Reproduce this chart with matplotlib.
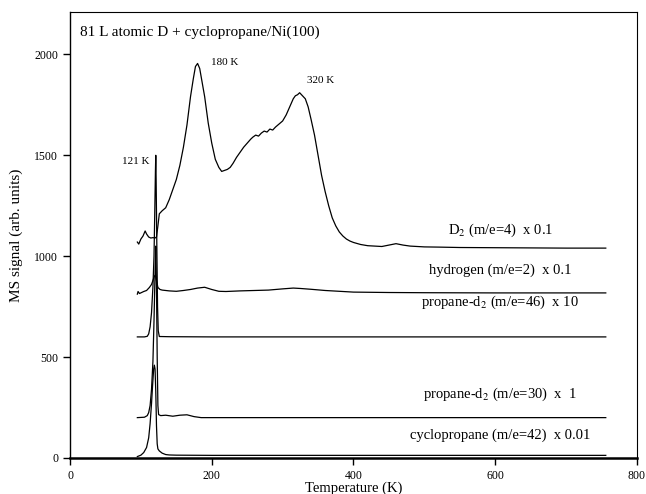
#!/usr/bin/env python3
"""
TPD spectra: 81 L atomic D + cyclopropane/Ni(100)
"""

import matplotlib.pyplot as plt

plt.rcParams["font.family"] = ["Liberation Serif", "DejaVu Serif"]
plt.rcParams["mathtext.fontset"] = "stix"

# D2 (m/e=4) x 0.1
d2_temp = [95, 97, 100, 103, 106, 108, 111, 114, 117, 120, 122, 124, 126, 130,
           135, 140, 145, 150, 155, 160, 165, 170, 174, 177, 180, 183, 186,
           190, 195, 200, 205, 210, 214, 218, 222, 226, 230, 235, 240, 245,
           250, 255, 258, 262, 266, 270, 274, 278, 282, 286, 290, 295, 300,
           305, 310, 315, 318, 321, 324, 328, 332, 336, 340, 345, 350, 355,
           360, 365, 370, 375, 380, 385, 390, 395, 400, 410, 420, 430, 440,
           450, 460, 470, 480, 500, 520, 550, 600, 650, 700, 756]
d2_vals = [1070, 1060, 1085, 1100, 1125, 1110, 1095, 1090, 1092, 1090, 1095,
           1150, 1210, 1225, 1240, 1280, 1330, 1380, 1450, 1540, 1650, 1790,
           1880, 1940, 1955, 1930, 1870, 1790, 1660, 1560, 1480, 1440, 1420,
           1425, 1430, 1440, 1460, 1490, 1515, 1540, 1560, 1580, 1590, 1600,
           1595, 1610, 1620, 1615, 1630, 1625, 1640, 1655, 1670, 1700, 1740,
           1780, 1795, 1800, 1810, 1795, 1780, 1740, 1680, 1600, 1500, 1400,
           1320, 1250, 1190, 1150, 1120, 1100, 1085, 1075, 1068, 1058, 1052,
           1050, 1048, 1055, 1062, 1055, 1050, 1046, 1045, 1043, 1042, 1041,
           1040, 1040]

# hydrogen (m/e=2) x 0.1
h2_temp = [95, 96, 98, 101, 104, 108, 112, 115, 117, 119, 120, 121, 122, 124,
           127, 130, 140, 150, 160, 170, 180, 190, 200, 210, 220, 240, 260, 280,
           300, 315, 325, 340, 360, 380, 400, 450, 500, 600, 700, 756]
h2_vals = [812, 825, 815, 820, 825, 830, 845, 860, 880, 900, 905, 900, 880,
           845, 835, 832, 828, 826, 830, 835, 842, 846, 835, 826, 825, 828,
           830, 832, 838, 842, 840, 836, 830, 826, 822, 820, 819, 818, 818, 818]

# propane-d2 (m/e=46) x 10
p46_temp = [95, 105, 109, 111, 113, 115, 117, 118.5, 119.5, 120.5, 121, 121.5,
            122.5, 123.5, 124.5, 126, 140, 200, 300, 400, 500, 600, 700, 756]
p46_vals = [600, 600, 603, 615, 650, 720, 850, 1000, 1200, 1420, 1500, 1380,
            1050, 750, 630, 602, 601, 600, 600, 600, 600, 600, 600, 600]

# propane-d2 (m/e=30) x 1
p30_temp = [95, 105, 109, 111, 113, 115, 117, 118.5, 120, 121, 122, 123, 124,
            125, 128, 135, 145, 155, 165, 175, 185, 200, 300, 400, 500, 600,
            700, 756]
p30_vals = [200, 202, 210, 225, 260, 340, 480, 680, 920, 1050, 850, 500, 260,
            215, 210, 212, 207, 212, 214, 205, 200, 200, 200, 200, 200, 200,
            200, 200]

# cyclopropane (m/e=42) x 0.01
c3_temp = [95, 100, 104, 108, 111, 113, 115, 116.5, 118, 119, 120, 121, 122,
           123, 124, 126, 130, 135, 140, 150, 200, 300, 400, 500, 600, 700, 756]
c3_vals = [7, 14, 27, 52, 100, 170, 270, 360, 440, 460, 440, 330, 160, 70,
           45, 35, 24, 17, 15, 14, 13, 13, 13, 13, 13, 13, 13]

traces = [
    (d2_temp, d2_vals),
    (h2_temp, h2_vals),
    (p46_temp, p46_vals),
    (p30_temp, p30_vals),
    (c3_temp, c3_vals),
]

labels = [
    (607, 1130, r"D$_2$ (m/e=4)  x 0.1"),
    (607, 930, "hydrogen (m/e=2)  x 0.1"),
    (607, 772, r"propane-d$_2$ (m/e=46)  x 10"),
    (607, 317, r"propane-d$_2$ (m/e=30)  x  1"),
    (607, 114, "cyclopropane (m/e=42)  x 0.01"),
]

peaks = [
    (199, 1960, "180 K", "left"),
    (335, 1870, "320 K", "left"),
    (112, 1470, "121 K", "right"),
]

fig = plt.figure(figsize=(6.46, 4.94), dpi=100)
ax = fig.add_axes([0.1084, 0.0729, 0.8776, 0.9028])

for temp, vals in traces:
    ax.plot(temp, vals, color="black", linewidth=0.9)

for x, y, txt in labels:
    ax.text(x, y, txt, ha="center", va="center", fontsize=10.5)

for x, y, txt, ha in peaks:
    ax.text(x, y, txt, ha=ha, va="center", fontsize=8)

ax.text(14, 2110, "81 L atomic D + cyclopropane/Ni(100)", ha="left",
        va="center", fontsize=11)

ax.set_xlim(0, 800)
ax.set_ylim(0, 2210)
ax.set_xticks([0, 200, 400, 600, 800])
ax.set_yticks([0, 500, 1000, 1500, 2000])
ax.tick_params(direction="out", length=5, width=1, labelsize=8.5)
ax.spines["bottom"].set_linewidth(1.8)
ax.spines["left"].set_linewidth(1.0)
ax.spines["top"].set_linewidth(0.8)
ax.spines["right"].set_linewidth(0.8)

ax.set_xlabel("Temperature (K)", fontsize=10.5, labelpad=0)
ax.set_ylabel("MS signal (arb. units)", fontsize=11, labelpad=8)

plt.savefig("out.png", dpi=100)
plt.close()
